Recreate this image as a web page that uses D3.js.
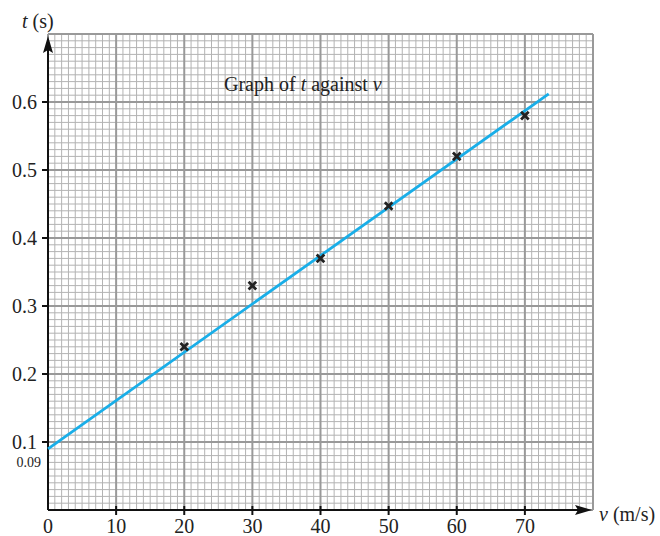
<!DOCTYPE html>
<html>
<head>
<meta charset="utf-8">
<script src="https://cdn.jsdelivr.net/npm/d3@7"></script>
<style>
  html, body { margin: 0; padding: 0; background: #fff; }
  svg { display: block; }
  text { font-family: "Liberation Serif", "DejaVu Serif", serif; fill: #222; }
</style>
</head>
<body>
<svg id="chart" width="660" height="536"></svg>
<script>
// Measured speeds v (m/s) and times t (s)
const speeds = [20, 30, 40, 50, 60, 70];
const times = [0.24, 0.33, 0.37, 0.447, 0.52, 0.58];

// Line of best fit: intercept 0.09 s, drawn to v = 73.5
const fitV = [0, 73.5];
const fitT = [0.09, 0.612];

const xTicks = [0, 10, 20, 30, 40, 50, 60, 70];
const yTicks = [0.1, 0.2, 0.3, 0.4, 0.5, 0.6];
const interceptLabel = "0.09";

const svg = d3.select("#chart");

const x = d3.scaleLinear().domain([0, 80]).range([48, 593]);
const y = d3.scaleLinear().domain([0, 0.7]).range([510, 34]);

// Graph paper: minor lines every 1 m/s and 0.01 s, major every 10 m/s and 0.1 s
const grid = svg.append("g");
const xMinor = d3.range(0, 81, 1);
const yMinor = d3.range(0, 71, 1).map(d => d / 100);

grid.selectAll("line.vx").data(xMinor.filter(d => d % 10 !== 0)).join("line")
  .attr("x1", d => x(d)).attr("x2", d => x(d))
  .attr("y1", y(0)).attr("y2", y(0.7))
  .attr("stroke", "#b3b3b3").attr("stroke-width", 1);
grid.selectAll("line.hy").data(yMinor.filter((d, i) => i % 10 !== 0)).join("line")
  .attr("x1", x(0)).attr("x2", x(80))
  .attr("y1", d => y(d)).attr("y2", d => y(d))
  .attr("stroke", "#b3b3b3").attr("stroke-width", 1);

grid.selectAll("line.vmaj").data(d3.range(0, 81, 10)).join("line")
  .attr("x1", d => x(d)).attr("x2", d => x(d))
  .attr("y1", y(0)).attr("y2", y(0.7))
  .attr("stroke", "#999").attr("stroke-width", 2);
grid.selectAll("line.hmaj").data(d3.range(0, 8).map(d => d / 10)).join("line")
  .attr("x1", x(0)).attr("x2", x(80))
  .attr("y1", d => y(d)).attr("y2", d => y(d))
  .attr("stroke", "#999").attr("stroke-width", 2);

// Title
const title = svg.append("text").attr("x", 224).attr("y", 91)
  .attr("font-size", 20);
title.append("tspan").text("Graph of ");
title.append("tspan").attr("font-style", "italic").text("t");
title.append("tspan").text(" against ");
title.append("tspan").attr("font-style", "italic").text("v");

// Axes with arrowheads
const axes = svg.append("g");
axes.append("line")
  .attr("x1", x(0)).attr("x2", 580)
  .attr("y1", y(0)).attr("y2", y(0))
  .attr("stroke", "#111").attr("stroke-width", 2);
axes.append("path")
  .attr("d", `M592,${y(0)} L575,${y(0) - 5} L578,${y(0)} L575,${y(0) + 5} Z`)
  .attr("fill", "#111");
axes.append("line")
  .attr("x1", x(0)).attr("x2", x(0))
  .attr("y1", y(0)).attr("y2", 50)
  .attr("stroke", "#111").attr("stroke-width", 2);
axes.append("path")
  .attr("d", `M${x(0)},36 L${x(0) - 5},53 L${x(0)},50 L${x(0) + 5},53 Z`)
  .attr("fill", "#111");

// Tick marks and labels
axes.selectAll("line.xt").data(xTicks.slice(1)).join("line")
  .attr("x1", d => x(d)).attr("x2", d => x(d))
  .attr("y1", y(0) - 4).attr("y2", y(0) + 5)
  .attr("stroke", "#111").attr("stroke-width", 2);
axes.selectAll("text.xl").data(xTicks).join("text")
  .attr("x", d => x(d)).attr("y", 533)
  .attr("text-anchor", "middle").attr("font-size", 20)
  .text(d => d);

axes.selectAll("line.yt").data(yTicks).join("line")
  .attr("x1", x(0) - 6).attr("x2", x(0))
  .attr("y1", d => y(d)).attr("y2", d => y(d))
  .attr("stroke", "#111").attr("stroke-width", 2);
axes.selectAll("text.yl").data(yTicks).join("text")
  .attr("x", 37).attr("y", d => y(d) + 7)
  .attr("text-anchor", "end").attr("font-size", 20)
  .text(d => d.toFixed(1));

axes.append("text").attr("x", 41).attr("y", 467)
  .attr("text-anchor", "end").attr("font-size", 14)
  .text(interceptLabel);

// Axis titles
const yt = svg.append("text").attr("x", 22).attr("y", 28).attr("font-size", 20);
yt.append("tspan").attr("font-style", "italic").text("t");
yt.append("tspan").text(" (s)");
const xt = svg.append("text").attr("x", 599).attr("y", 521).attr("font-size", 20);
xt.append("tspan").attr("font-style", "italic").text("v");
xt.append("tspan").text(" (m/s)");

// Best-fit line
svg.append("line")
  .attr("x1", x(fitV[0])).attr("y1", y(fitT[0]))
  .attr("x2", x(fitV[1])).attr("y2", y(fitT[1]))
  .attr("stroke", "#19aee8").attr("stroke-width", 2.8)
  .attr("stroke-linecap", "butt");

// Data points as crosses
const pts = svg.append("g");
const r = 3.8;
pts.selectAll("path").data(speeds.map((v, i) => [v, times[i]])).join("path")
  .attr("d", d => {
    const cx = x(d[0]), cy = y(d[1]);
    return `M${cx - r},${cy - r}L${cx + r},${cy + r}M${cx - r},${cy + r}L${cx + r},${cy - r}`;
  })
  .attr("stroke", "#222").attr("stroke-width", 2.8).attr("fill", "none");
</script>
</body>
</html>
